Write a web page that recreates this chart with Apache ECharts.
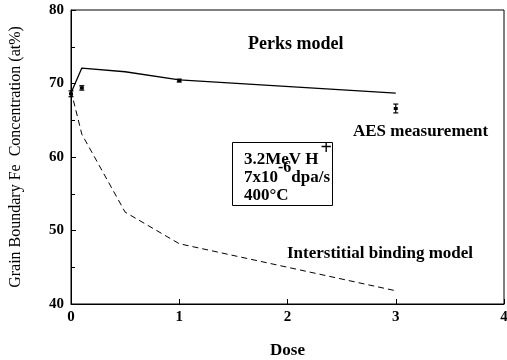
<!DOCTYPE html>
<html><head><meta charset="utf-8">
<script src="https://cdn.jsdelivr.net/npm/echarts@6/dist/echarts.min.js"></script>
<style>html,body{margin:0;padding:0;background:#fff}#c{width:507px;height:360px}</style>
</head><body><div id="c"></div>
<script>
const perksDose = [0, 0.1, 0.5, 1, 3];
const perksFe = [68.7, 72.1, 71.6, 70.5, 68.7];
const interDose = [0, 0.1, 0.5, 1, 3];
const interFe = [69.0, 63.1, 52.5, 48.2, 41.8];
const aesDose = [0, 0.1, 1, 3];
const aesFe = [68.6, 69.4, 70.4, 66.6];
const aesErr = [0.4, 0.3, 0.2, 0.6];
const xTicks = [0, 1, 2, 3, 4];
const yTicks = [40, 50, 60, 70, 80];

const serif = '"Liberation Serif","DejaVu Serif",serif';
const boxFont = 'bold 17px ' + serif;
const supFont = 'bold 16px ' + serif;
const ctx = document.createElement('canvas').getContext('2d');
function w(t, f) { ctx.font = f; return ctx.measureText(t).width; }

const bx = 244;
const l1 = 160, l2 = 178, l3 = 196;
const w1 = w('3.2MeV H', boxFont);
const w2 = w('7x10', boxFont);
const w2s = w('-6', supFont);

const chart = echarts.init(document.getElementById('c'), null, {renderer: 'canvas'});
const axisLabelStyle = {color: '#000', fontFamily: serif, fontWeight: 'bold', fontSize: 15};
function T(text, x, y, font) {
  return {type: 'text', z: 10, style: {text: text, x: x, y: y, font: font, fill: '#000', textVerticalAlign: 'middle', verticalAlign: 'middle'}};
}
chart.setOption({
  animation: false,
  grid: {left: 71, right: 3, top: 10, bottom: 56, show: true, borderColor: '#000', borderWidth: 1,
         containLabel: false, outerBoundsMode: 'none'},
  xAxis: {
    type: 'value', min: 0, max: 4, interval: 1,
    name: 'Dose', nameLocation: 'middle', nameGap: 38,
    nameTextStyle: {color: '#000', fontFamily: serif, fontWeight: 'bold', fontSize: 17},
    axisLine: {lineStyle: {color: '#000', width: 1}},
    axisTick: {inside: true, length: 5, lineStyle: {color: '#000'}},
    axisLabel: Object.assign({margin: 6}, axisLabelStyle),
    splitLine: {show: false}
  },
  yAxis: {
    type: 'value', min: 40, max: 80, interval: 10,
    name: 'Grain Boundary Fe  Concentration (at%)', nameLocation: 'middle', nameGap: 47,
    nameTextStyle: {color: '#000', fontFamily: serif, fontSize: 16},
    axisLine: {lineStyle: {color: '#000', width: 1}},
    axisTick: {inside: true, length: 5, lineStyle: {color: '#000'}},
    minorTick: {show: true, splitNumber: 2, length: 4, lineStyle: {color: '#000'}},
    axisLabel: Object.assign({margin: 7}, axisLabelStyle),
    splitLine: {show: false}
  },
  series: [
    {type: 'line', data: perksDose.map((d, i) => [d, perksFe[i]]), symbol: 'none',
     lineStyle: {color: '#000', width: 1.3}},
    {type: 'line', data: interDose.map((d, i) => [d, interFe[i]]), symbol: 'none',
     lineStyle: {color: '#000', width: 1, type: [6, 4]}},
    {type: 'custom', data: aesDose.map((d, i) => [d, aesFe[i], aesErr[i]]),
     renderItem: function (params, api) {
       const x = api.value(0), y = api.value(1), e = api.value(2);
       const c = api.coord([x, y]);
       const hi = api.coord([x, y + e]);
       const lo = api.coord([x, y - e]);
       const st = {stroke: '#000', lineWidth: 1.2};
       return {type: 'group', children: [
         {type: 'line', shape: {x1: c[0], y1: hi[1], x2: c[0], y2: lo[1]}, style: st},
         {type: 'line', shape: {x1: c[0] - 2.5, y1: hi[1], x2: c[0] + 2.5, y2: hi[1]}, style: st},
         {type: 'line', shape: {x1: c[0] - 2.5, y1: lo[1], x2: c[0] + 2.5, y2: lo[1]}, style: st},
         {type: 'rect', shape: {x: c[0] - 2, y: c[1] - 1.5, width: 4, height: 3}, style: {fill: '#000'}}
       ]};
     }, z: 5}
  ],
  graphic: [
    T('Perks model', 248, 44, 'bold 18px ' + serif),
    T('AES measurement', 353, 132, 'bold 17px ' + serif),
    T('Interstitial binding model', 287, 254, 'bold 17px ' + serif),
    {type: 'rect', z: 9, shape: {x: 232.5, y: 142.5, width: 100, height: 63}, style: {fill: '#fff', stroke: '#000', lineWidth: 1}},
    T('3.2MeV H', bx, l1, boxFont),
    T('+', bx + w1 + 2, l1 - 11, 'bold 20px ' + serif),
    T('7x10', bx, l2, boxFont),
    T('-6', bx + w2, l2 - 10, supFont),
    T('dpa/s', bx + w2 + w2s, l2, boxFont),
    T('400°C', bx, l3, boxFont)
  ]
});
</script></body></html>
